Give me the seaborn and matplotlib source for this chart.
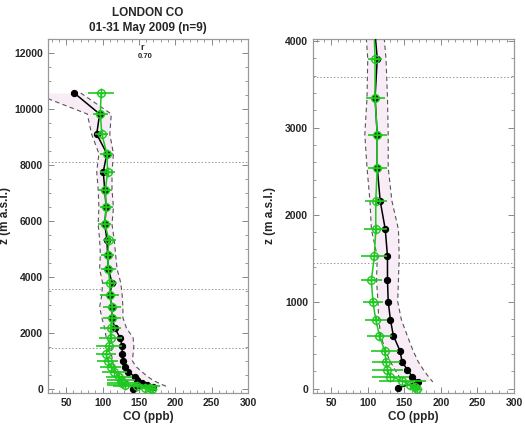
import numpy as np
import pandas as pd
import matplotlib
matplotlib.use("Agg")
import matplotlib.pyplot as plt
from matplotlib.ticker import MultipleLocator
import seaborn as sns

# %% data - mean profiles
z_levels = [10570, 9820, 9100, 8400, 7760, 7120, 6480, 5880, 5330, 4790, 4280,
            3790, 3345, 2920, 2540, 2160, 1830, 1520, 1245, 1000, 793, 610,
            437, 310, 218, 138, 77, 10]
co_obs = [61, 96, 92, 106, 101, 103, 105, 103, 106, 107, 108,
          113, 110, 113, 113, 117, 124, 127, 127, 128, 131, 135,
          144, 147, 154, 161, 169, 142]
env_lo = [5, 79, 85, 95, 92, 94, 95, 94, 96, 97, 96,
          100, 99, 96, 99, 103, 105, 113, 112, 114, 115, 118,
          124, 131, 137, 143, 149, np.nan]
env_hi = [70, 112, 110, 115, 113, 113, 115, 113, 116, 118, 120,
          125, 127, 128, 128, 133, 142, 143, 142, 141, 146, 154,
          162, 169, 176, 183, 189, np.nan]

z_model = [10570, 9820, 9100, 8400, 7760, 7120, 6480, 5880, 5330, 4790, 4280,
           3790, 3345, 2920, 2540, 2160, 1830, 1520, 1245, 1000, 793, 610,
           437, 310, 218, 138, 92, 40, 15, 0]
co_model = [98, 97, 99, 106, 107, 104, 105, 103, 109, 107, 108,
            110, 110, 113, 113, 111, 111, 109, 105, 107, 111, 116,
            123, 125, 127, 131, 147, 158, 165, 168]
co_model_err = [18, 10, 9, 9, 10, 9, 9, 9, 9, 9, 10,
                10, 13, 13, 13, 15, 16, 18, 14, 14, 15, 17,
                18, 19, 21, 25, 32, 4, 3, 3]

bl_lines = [8120, 3580, 1450]
r_value = "0.70"

obs = pd.DataFrame({'z': z_levels, 'CO': co_obs, 'lo': env_lo, 'hi': env_hi})
mod = pd.DataFrame({'z': z_model, 'CO': co_model, 'err': co_model_err})

# %% plot
sns.set_style("ticks")
plt.rcParams['font.family'] = ['Liberation Sans', 'DejaVu Sans']
plt.rcParams['font.weight'] = 'bold'

green = '#1fc81f'
fig = plt.figure(figsize = (5.25, 4.26), dpi = 100)
ax1 = fig.add_axes([0.0914, 0.0775, 0.381, 0.831])
ax2 = fig.add_axes([0.596, 0.0775, 0.383, 0.831])

for ax, ylim, ymaj, ymin in [(ax1, (-150, 12500), 2000, 500), (ax2, (-50, 4020), 1000, 200)]:
    ax.fill_betweenx(obs['z'], obs['lo'], obs['hi'], color = '#f8edf6', lw = 0, zorder = 1)
    ax.plot(obs['lo'], obs['z'], color = '#555555', lw = 0.8, dashes = (4, 3), zorder = 2)
    ax.plot(obs['hi'], obs['z'], color = '#555555', lw = 0.8, dashes = (4, 3), zorder = 2)
    sns.lineplot(data = obs, x = 'CO', y = 'z', sort = False, orient = 'y', estimator = None,
                 color = 'black', lw = 1.1, marker = 'o', ms = 4.5, mec = 'black', ax = ax, zorder = 3)
    ax.errorbar(mod['CO'], mod['z'], xerr = mod['err'], fmt = 'none', ecolor = green,
                elinewidth = 1.2, capsize = 0, zorder = 4)
    sns.lineplot(data = mod, x = 'CO', y = 'z', sort = False, orient = 'y', estimator = None,
                 color = green, lw = 1.1, marker = 'o', ms = 5.5, mfc = 'none', mec = green,
                 mew = 1.0, ax = ax, zorder = 5)
    ax.plot(mod['CO'], mod['z'], ls = 'none', marker = '+', ms = 7, mew = 1.0, color = green, zorder = 5)
    for h in bl_lines:
        ax.axhline(h, color = '#999999', lw = 0.7, ls = (0, (1.5, 2)), zorder = 0)

    ax.set_xlim(25, 300)
    ax.set_ylim(*ylim)
    ax.xaxis.set_major_locator(MultipleLocator(50))
    ax.xaxis.set_minor_locator(MultipleLocator(10))
    ax.yaxis.set_major_locator(MultipleLocator(ymaj))
    ax.yaxis.set_minor_locator(MultipleLocator(ymin))
    ax.tick_params(which = 'both', direction = 'in', top = True, right = True,
                   color = '#888888', labelsize = 7.5)
    ax.tick_params(which = 'major', length = 4, width = 0.7)
    ax.tick_params(which = 'minor', length = 2, width = 0.6)
    for s in ax.spines.values():
        s.set_color('#999999')
        s.set_linewidth(0.9)
    for lab in ax.get_xticklabels() + ax.get_yticklabels():
        lab.set_fontweight('bold')
    ax.set_xlabel('CO (ppb)', fontsize = 8.5, fontweight = 'bold', labelpad = 2)
    ax.set_ylabel('z (m a.s.l.)', fontsize = 8.5, fontweight = 'bold')
    ax.yaxis.set_label_coords(-0.185, 0.5)

ax1.set_title('LONDON CO\n01-31 May 2009 (n=9)', fontsize = 8.5, fontweight = 'bold',
              linespacing = 1.3, pad = 6)
ax1.text(154, 12040, 'r', fontsize = 6.5, fontweight = 'bold', ha = 'center', va = 'bottom')
ax1.text(158, 12010, r_value, fontsize = 5.5, fontweight = 'bold', ha = 'center', va = 'top')

plt.savefig('out.png', dpi = 100)
